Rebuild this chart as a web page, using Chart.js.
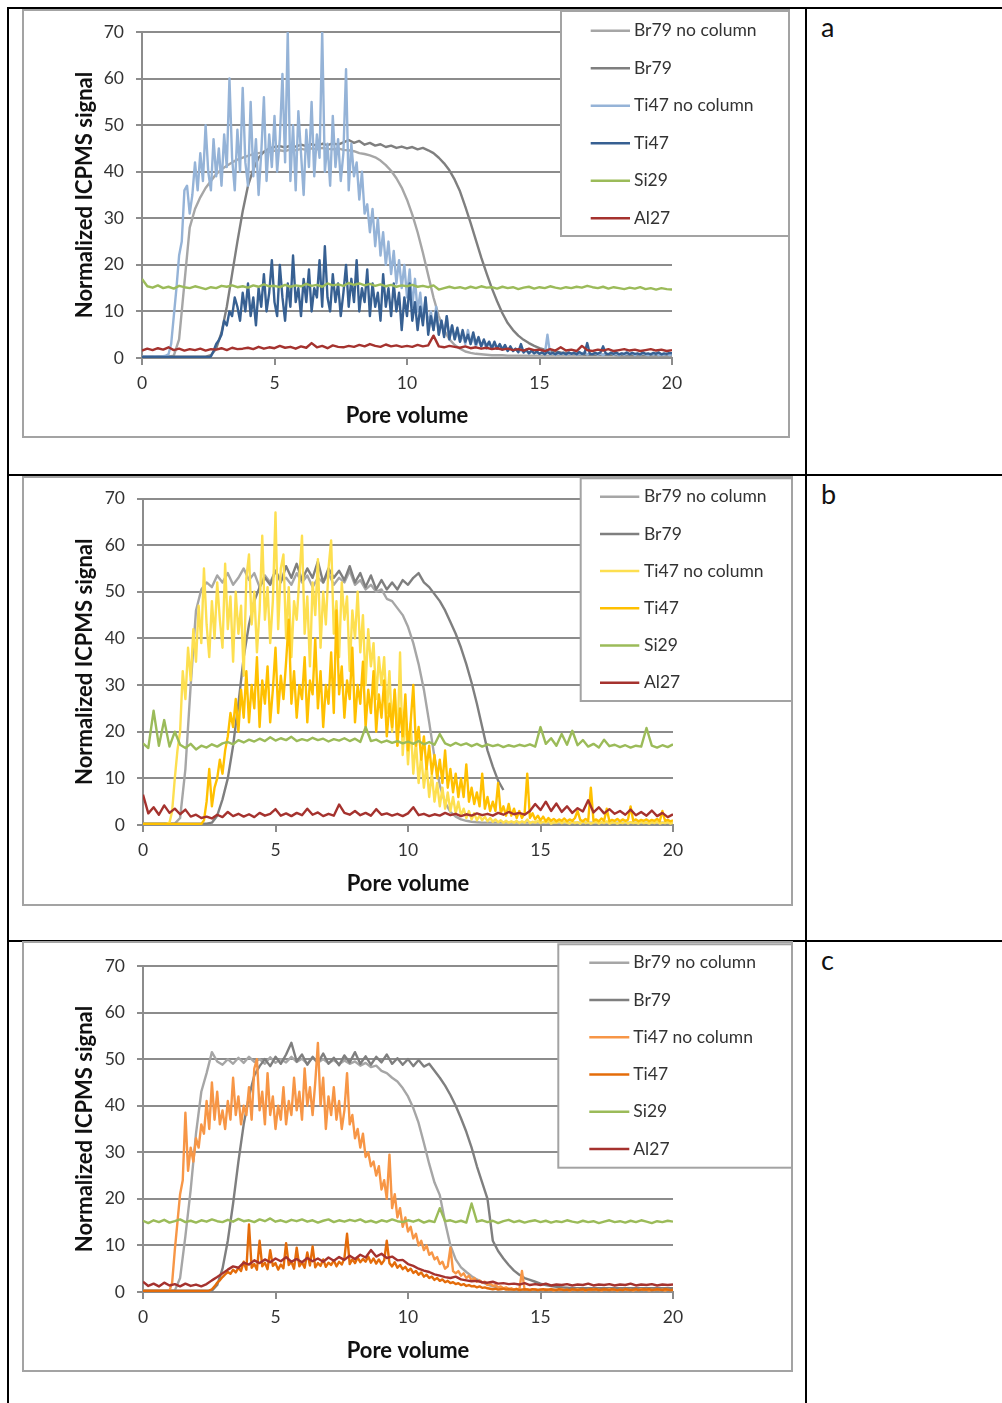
<!DOCTYPE html>
<html>
<head>
<meta charset="utf-8">
<script src="https://cdn.jsdelivr.net/npm/chart.js@4.4.1/dist/chart.umd.min.js"></script>
<style>
  html, body { margin: 0; padding: 0; background: #fff; }
  body { width: 1002px; height: 1403px; position: relative; overflow: hidden; }
  .rule { position: absolute; background: #000; }
  canvas { position: absolute; }
  .tag { position: absolute; font: 27px Lato, sans-serif; line-height: 27px; color: #111; }
</style>
</head>
<body>
<div class="rule" style="left:7px;top:7px;width:995px;height:2px"></div>
<div class="rule" style="left:7px;top:474px;width:995px;height:2px"></div>
<div class="rule" style="left:7px;top:940px;width:995px;height:2px"></div>
<div class="rule" style="left:7px;top:7px;width:2px;height:1396px"></div>
<div class="rule" style="left:805px;top:7px;width:2px;height:1396px"></div>

<canvas id="chartA" width="768" height="429" style="left:22px;top:9px"></canvas>
<canvas id="chartB" width="771" height="430" style="left:22px;top:476px"></canvas>
<canvas id="chartC" width="771" height="431" style="left:22px;top:941px"></canvas>

<div class="tag" style="left:821px;top:13px">a</div>
<div class="tag" style="left:821px;top:480px">b</div>
<div class="tag" style="left:821px;top:946px">c</div>

<script>
/* sampling of the traces along the x axis (pore volume) */
var stepCoarse = 0.2;   // Br79, Si29, Al27
var stepFine = 0.1;     // noisy Ti47 traces

var seriesNames = ['Br79 no column', 'Br79', 'Ti47 no column', 'Ti47', 'Si29', 'Al27'];

/* ---------- panel a ---------- */
var aBr79NoCol = [
  0.3,0.3,0.3,0.3,0.3,0.3,0.5,4,16,28,
  32,34.5,36.5,38,39.5,40.5,41.3,42,42.6,43,
  43.4,43.8,44,44.2,44.3,44.5,44.6,44.4,44.8,44.6,
  44.9,44.7,45,44.8,45.1,44.9,44.8,45,44.7,44.6,
  44.4,44,43.8,43.5,43.1,42.4,41.4,40.2,38.6,36.6,
  34,30.8,27,22.6,17.8,13,9,6,4,2.8,
  2,1.4,1.1,0.9,0.8,0.7,0.6,0.6,0.6,0.5,
  0.5,0.5,0.5,0.5,0.5,0.5,0.5,0.5,0.5,0.5,
  0.5,0.5,0.5,0.5,0.5,0.5,0.5,0.5,0.5,0.5,
  0.5,0.5,0.5,0.5,0.5,0.5,0.5,0.5,0.5,0.5,
  0.5
];
var aBr79 = [
  0.3,0.3,0.3,0.3,0.3,0.3,0.3,0.3,0.3,0.3,
  0.3,0.3,0.3,0.6,2,5.5,11,18,25,31.5,
  37,40.5,43,44.3,45,45.3,45.5,45.2,45.6,45.4,
  45.8,45.5,45.9,45.6,46,45.7,46.1,45.8,46.3,46.8,
  46.2,46.6,45.8,46.2,45.6,45.9,45.3,45.6,45.1,45.4,
  45,45.3,44.8,45.1,44.6,44,43,41.8,40.3,38.3,
  35.8,32.5,29,25.3,21.6,18.2,15,12.2,9.6,7.5,
  6,4.8,3.9,3.2,2.6,2.1,1.8,1.6,1.4,1.2,
  1.1,1,0.9,0.8,0.7,0.7,0.7,0.7,0.7,0.7,
  0.6,0.6,0.6,0.6,0.6,0.6,0.6,0.6,0.6,0.6,
  0.6
];
var aTi47NoCol = [
  0.3,0.3,0.4,0.3,0.3,0.4,0.3,0.3,0.4,0.5,
  0.8,3,9,15,22,25,36,37,31,35,
  42,36,44,38,50,40,36,47,39,45,
  37,48,41,60,43,36,49,40,58,42,
  37,55,39,47,35,44,56,38,48,41,
  52,40,47,61,42,70,38,50,36,53,
  44,35,49,41,55,39,48,43,70,40,
  46,37,52,41,47,38,44,62,36,46,
  39,42,34,40,31,33,27,32,24,30,
  22,27,20,25,18,23,16,21,15,20,
  13,19,11,17,10,14,8,13,7,10,
  6,11,5,8,5,9,4,7,4,6,
  3.5,5,3,6,3,4.5,2.5,4,2.5,3.5,
  2,3.5,2,3,2,2.8,1.8,2.5,1.5,2.3,
  1.5,2,1.2,1.8,1.2,1.6,1,1.4,1,1.3,
  0.9,1.2,0.8,5,0.8,1.1,0.7,1,0.8,1.1,
  0.7,1,0.8,1.2,0.7,0.9,0.8,1.3,0.7,1,
  0.8,1.1,0.7,0.9,0.6,1,0.8,1.2,0.7,0.9,
  0.6,1,0.7,0.9,0.8,1.1,0.6,0.9,0.7,1,
  0.8,0.6,0.9,0.7,1,0.6,0.8,0.7,0.9,0.6,
  0.8
];
var aTi47 = [
  0.2,0.2,0.2,0.2,0.2,0.2,0.2,0.2,0.2,0.2,
  0.2,0.2,0.2,0.2,0.2,0.2,0.2,0.2,0.2,0.2,
  0.2,0.2,0.2,0.2,0.2,0.2,0.3,1.5,3,3.8,
  5,8,7,10,9,13,11,8,14,10,
  16,9,13,7,15,11,18,10,14,21,
  12,9,20,13,8,16,11,22,12,15,
  9,17,12,19,10,15,13,21,11,24,
  13,10,18,12,16,9,14,20,11,17,
  12,21,10,15,12,19,9,16,11,14,
  8,18,11,15,9,16,10,14,6,13,
  9,16,8,12,6,11,7,13,5,9,
  6,10,5,8,4.5,9,4,7,4,6.5,
  3.5,6,3.5,5,3,5.5,3,4.5,2.5,4,
  2.5,3.5,2,3.5,2,3,1.8,2.8,1.5,2.5,
  1.5,2,1.3,3,1.2,1.8,1,1.6,1,1.4,
  0.9,1.2,0.8,1.3,0.9,1.1,0.8,1.2,0.9,1.1,
  0.8,1.2,0.9,1.1,0.8,1.3,0.9,1,3.2,0.9,
  0.8,1.1,0.9,1.2,2.5,1,0.8,1.1,0.9,1.2,
  0.8,1,0.9,1.2,0.8,1.1,0.9,1,0.8,1.2,
  0.9,1,0.8,1.1,0.9,1.2,0.8,1,0.9,1.1,
  1
];
var aSi29 = [
  17,15.4,15.1,15.6,15,15.3,14.9,15.5,15.2,15,
  15.4,15.1,14.8,15.2,15,15.5,15.3,15.6,15.2,15.4,
  15.1,15.6,15.3,15.8,15.4,15.5,15.2,15.7,15.3,15.6,
  15.4,15.9,15.5,15.7,15.3,16,15.6,15.8,15.5,16.1,
  15.7,16,15.6,15.9,15.5,15.8,15.4,15.7,15.3,15.6,
  15.4,15.7,15.3,15.5,15.2,15.6,14.7,15,15.3,15,
  15.2,14.9,15.3,15,15.4,15.1,15.2,14.9,15.3,15,
  15.2,14.8,15.1,15.3,14.9,15.2,15,15.4,15.1,14.9,
  15.2,15,15.3,15.1,15.5,15.2,15,15.3,14.9,15.2,
  15,14.8,15.1,14.9,15.2,14.8,15,14.7,15,14.8,
  14.7
];
var aAl27 = [
  1.6,2,1.7,2.1,1.8,2.3,1.7,2,1.6,1.9,
  1.7,2,1.6,1.9,1.8,2.1,1.7,2.2,1.9,2,
  2.2,1.9,2.4,2,2.3,2.1,2.6,2.2,2.4,2,
  2.5,2.2,3.2,2.3,2.6,2.1,2.7,2.4,2.3,2.6,
  2.4,2.8,2.5,3,2.6,2.4,2.9,2.5,2.7,2.4,
  2.6,2.4,2.8,2.5,2.7,4.8,2.5,2.3,2.6,2.4,
  2.2,2.5,2.1,2.3,2,2.2,1.9,2.1,1.8,2,
  1.7,1.9,1.6,2,1.7,1.8,1.5,1.9,1.6,2.3,
  1.6,1.8,1.5,2.6,1.7,1.5,1.8,1.6,1.9,1.5,
  1.7,1.9,1.6,1.8,1.5,1.7,1.9,1.6,1.8,1.5,
  1.7
];

/* ---------- panel b ---------- */
var bBr79NoCol = [
  0.3,0.3,0.3,0.3,0.3,0.3,0.3,1.5,12,30,
  46,50.5,52,51,53.5,52,54,51.5,53,55,
  52.5,54,51,53.5,52,54.5,52.5,53,51.5,54,
  52,53.5,51,53,52,54,51.5,53,52,54.5,
  51.5,52.5,50.5,51.5,50,50.5,48.5,48,46.5,45,
  42.5,39,34.5,29,22,14.5,8.5,4.8,2.8,1.8,
  1.2,0.9,0.7,0.6,0.5,0.5,0.5,0.5,0.5,0.5,
  0.5,0.5,0.5,0.5,0.5,0.5,0.5,0.5,0.5,0.5,
  0.5,0.5,0.5,0.5,0.5,0.5,0.5,0.5,0.5,0.5,
  0.5,0.5,0.5,0.5,0.5,0.5,0.5,0.5,0.5,0.5,
  0.5
];
// Br79 trace stops at 13.6 pore volumes in this run
var bBr79 = [
  0.3,0.3,0.3,0.3,0.3,0.3,0.3,0.3,0.3,0.3,
  0.3,0.3,0.3,0.5,2,5.5,10,17,26,36,
  43,48,51,53,51.5,54.5,52,55.5,53,56,
  52.5,55,53,56.5,52,55,53,54.5,52.5,55.5,
  52,54,51,53.5,50.5,52.5,50.5,52,50.5,52.5,
  51.5,53,54,52,51,49.5,48,46,43.5,41,
  38,34.5,30.5,26,21,16,12.5,9.5,7.5
];
var bTi47NoCol = [
  0.2,0.2,0.2,0.2,0.2,0.2,0.2,0.2,0.2,0.3,
  0.5,3,10,16,20,33,27,38,31,42,
  35,47,39,55,43,36,48,40,52,44,
  38,56,42,49,35,50,41,47,32,53,
  58,43,50,37,46,62,44,51,39,48,
  67,42,55,58,40,51,36,48,44,53,
  62,41,49,34,52,45,57,38,50,43,
  55,61,41,48,36,52,44,49,33,46,
  40,50,37,45,30,42,34,39,27,36,
  30,36,24,33,20,29,17,37,15,24,
  13,22,11,18,9,15,8,13,6,11,
  5,9,4,8,3.5,7,3,6,2.5,5,
  2,3.5,1.5,3,1.2,2.5,1,2,1,1.8,
  0.8,1.5,0.7,1.2,0.6,1,0.5,0.9,0.5,0.8,
  0.5,0.9,0.4,0.8,0.5,1.2,0.4,0.7,0.5,0.9,
  0.4,0.7,0.5,0.9,0.3,0.6,0.5,0.8,0.4,0.7,
  0.5,0.3,0.7,0.4,0.6,0.3,0.8,0.4,0.6,0.3,
  0.5,0.7,0.3,0.6,0.4,0.8,0.3,0.5,0.6,0.3,
  0.5,0.4,0.7,0.3,0.6,0.4,0.5,0.3,0.7,0.4,
  0.5,0.3,0.6,0.4,0.7,0.3,0.5,0.4,0.6,0.3,
  0.5
];
var bTi47 = [
  0.2,0.2,0.2,0.2,0.2,0.2,0.2,0.2,0.2,0.2,
  0.2,0.2,0.2,0.2,0.2,0.2,0.2,0.2,0.2,0.2,
  0.2,0.2,0.2,1,5,12,4,8,10,14,
  11,16,19,24,21,27,20,29,23,33,
  22,30,25,36,21,31,26,34,22,29,
  38,24,32,27,35,44,26,33,23,30,
  27,36,22,31,28,40,25,33,21,30,
  26,37,24,46,28,34,23,31,27,38,
  22,30,26,35,21,29,24,33,20,28,
  23,31,19,26,21,29,17,25,19,28,
  16,22,30,17,21,14,19,12,17,11,
  15,10,14,9,16,8,12,7,11,6,
  10,6,13,5,8,4.5,7,4,11,3.5,
  6,3,5,3,9,2.5,4,2,4.5,2,
  3.5,1.5,3,1.5,2.5,11,1.5,2.5,1.2,2,
  1,1.8,0.8,1.5,0.9,1.3,0.8,1.2,0.9,1.4,
  0.8,1.2,0.9,1.5,3,1.1,0.8,1.3,0.9,8,
  0.9,1.2,0.8,1.4,0.9,3.5,0.8,1.1,0.9,1.3,
  0.8,1.2,0.9,1.1,4,0.9,1.2,0.8,1.1,0.9,
  1.2,0.8,1.1,0.9,1.3,0.8,3,0.9,1.1,0.8,
  1
];
var bSi29 = [
  17.5,16.5,24.5,17,22.5,16.8,20,17.2,16.5,17.4,
  16.2,17,16.6,17.3,16.8,17.5,17.8,17.3,18.2,17.7,
  18.3,17.9,18.5,18,18.8,18.1,18.6,18.2,18.9,18,
  18.4,18.1,18.7,18.2,18.5,17.9,18.4,18.1,18.6,18,
  18.5,17.8,21,18,18.3,17.7,18.1,17.6,18,17.5,
  17.9,17.4,18,17.3,17.8,17.2,19.5,17.5,17,17.6,
  17.1,17.5,16.9,17.4,16.8,17.3,16.9,17.2,16.7,17.1,
  16.8,17.2,16.9,17.3,16.8,21,17.4,18.6,17,19.5,
  17.2,20.2,17.1,18.2,16.8,17.4,16.6,18.3,16.9,17.2,
  16.7,17.1,16.6,17,16.8,20.8,17,16.6,17.1,16.7,
  17.3
];
var bAl27 = [
  6.5,2.5,3.8,2.2,4.2,2.6,3.5,2.3,3.3,1.8,
  2.2,1.5,1.8,1.4,2.2,1.7,2.8,1.9,2.4,1.8,
  2.3,1.7,2.6,2,2.4,3.4,2,2.5,1.9,2.6,
  2.1,3.5,2.2,2.7,1.9,2.4,2,4.4,2.6,2.2,
  3,2.1,2.6,2,3.4,2.2,2.5,2,2.4,1.9,
  2.5,3.8,2.1,2.4,1.9,2.3,2,2.6,2.1,2.4,
  1.9,2.3,2,2.5,2.1,2.4,2,2.6,2.2,2.8,
  2.3,2.6,2.2,3,4.5,3.2,5,3,4.6,2.8,
  4,2.6,3.6,2.9,5.3,2.7,3.8,2.5,3.4,2.4,
  3,2.2,3.3,2.1,2.8,2,3.1,1.9,2.6,1.7,
  2.3
];

/* ---------- panel c ---------- */
var cBr79NoCol = [
  0.3,0.3,0.3,0.3,0.3,0.3,0.3,3,12,22,
  34,43,47,51.5,49.5,48.8,50,49,50.3,49.2,
  50.5,49.4,50,49,50.4,49.2,50,49.3,50.5,49.4,
  50.1,49,50.3,49.2,50,49.1,49.8,48.9,49.7,49,
  49.5,48.6,49.2,48.3,48.6,47.5,47,46,45.2,43.8,
  42,39.5,36.3,32,27.5,23.5,20.8,15,10,7,
  5.3,4.3,3.4,2.7,2.1,1.6,1.2,1,0.8,0.7,
  0.5,0.5,0.5,0.5,0.5,0.5,0.5,0.5,0.5,0.5,
  0.5,0.5,0.5,0.5,0.5,0.5,0.5,0.5,0.5,0.5,
  0.5,0.5,0.5,0.5,0.5,0.5,0.5,0.5,0.5,0.5,
  0.5
];
var cBr79 = [
  0.3,0.3,0.3,0.3,0.3,0.3,0.3,0.3,0.3,0.3,
  0.3,0.3,0.3,0.3,1.5,5,11,19,28,36,
  42,46.5,48.5,50,48.5,50.5,49,51,53.5,49.5,
  51,48.8,50.5,49.2,51.2,49,50.3,48.7,50.8,49.3,
  51.5,49,50.6,48.8,50.5,49.3,51,49,50.2,48.8,
  50,48.5,49.8,48.4,49,47.5,46,44.3,42.3,40,
  37.3,34.4,31,27,23.5,20,11,8.8,7.2,5.8,
  4.6,3.7,3,2.6,2.2,1.8,1.5,1.3,1.1,1,
  0.9,0.8,0.8,0.8,0.8,0.8,0.8,0.8,0.8,0.8,
  0.8,0.8,0.8,0.8,0.8,0.8,0.8,0.8,0.8,0.8,
  0.8
];
var cTi47NoCol = [
  0.2,0.2,0.2,0.2,0.2,0.2,0.2,0.2,0.2,0.2,
  0.3,2,9,15,21,24,38.5,26,31,28,
  33,31,36,34,41,35,45,37,43,36,
  39,35,41,37,46,38,42,36,40,38,
  44,37,48,50,39,43,36,47,38,42,
  35,40,37,44,36,41,38,46,39,43,
  37,48,40,44,38,45,53.5,40,46,35,
  42,38,44,37,41,35,39,47,36,38,
  33,35,31,34,29,30,27,28,25,27,
  22,24,20,29.5,18,21,16,18,14,16,
  13,14,11.5,12.5,10,11,9,10,8,8.5,
  7,7.5,6,6.5,5,5.5,9.5,4.5,4,4.5,
  3.5,4,3,3.5,2.5,3,2.2,2.5,2,2.2,
  1.5,1.8,1.3,1.5,1,1.2,0.8,1,0.6,0.8,
  0.5,0.7,0.4,4.5,0.5,0.6,0.4,0.5,0.6,0.4,
  0.5,0.4,0.6,0.4,0.5,0.3,0.5,0.4,0.6,0.4,
  0.5,0.3,0.5,0.4,0.6,0.4,0.5,0.3,0.5,0.4,
  0.6,0.4,0.5,0.3,0.5,0.4,0.6,0.4,0.5,0.3,
  0.5,0.4,0.6,0.4,0.5,0.3,0.5,0.4,0.6,0.4,
  0.5,0.3,0.5,0.4,0.6,0.4,0.5,0.3,0.5,0.4,
  0.4
];
var cTi47 = [
  0.2,0.2,0.2,0.2,0.2,0.2,0.2,0.2,0.2,0.2,
  0.2,0.2,0.2,0.2,0.2,0.2,0.2,0.2,0.2,0.2,
  0.2,0.2,0.2,0.2,0.2,0.3,0.6,1.2,2,2.5,
  3.2,3.8,4.3,3.9,4.8,4.2,5.2,4.5,6.5,4.8,
  14.5,5.2,6,4.8,11,5.5,6.3,4.9,9,5.6,
  6.2,4.8,5.9,5.1,10.5,5.8,6.5,5,9.5,5.5,
  6.4,5.2,8.5,5.7,9.8,5.3,6.2,5.6,7,5.4,
  6.3,5.8,6.8,5.5,6.5,5.9,7.2,12.5,6,7,
  6.2,7.4,6.4,7.1,6.5,7.6,6.3,7.2,6.1,7,
  6,6.8,11,6.2,5.5,6.4,5.2,5.8,4.9,5.4,
  4.5,5,4.1,4.5,3.7,4.2,3.3,3.7,3,3.3,
  2.6,3,2.4,2.7,2.1,2.4,1.9,2.1,1.7,1.9,
  1.5,1.7,1.3,1.5,1.2,1.3,1,1.2,0.9,1,
  0.8,0.7,0.6,0.7,0.5,0.6,0.7,0.5,0.6,0.5,
  0.5,0.6,0.4,0.5,0.6,0.5,0.4,0.6,0.5,0.4,
  0.5,0.6,0.4,0.5,0.6,0.5,0.4,0.6,0.5,0.4,
  0.5,0.4,0.6,0.5,0.4,0.5,0.6,0.4,0.5,0.6,
  0.5,0.6,0.4,0.5,0.6,0.5,0.4,0.6,0.5,0.4,
  0.5,0.4,0.6,0.5,0.4,0.5,0.6,0.4,0.5,0.6,
  0.5,0.6,0.4,0.5,0.6,0.5,0.4,0.6,0.5,0.4,
  0.5
];
var cSi29 = [
  15.3,14.8,15.4,15,15.5,14.9,15.2,15.6,15,15.3,
  14.9,15.4,15.1,15.6,15.2,15,15.5,15.1,15.7,15.2,
  15.4,15,15.6,15.2,15.8,15.1,15.4,15,15.5,15.2,
  15.6,15.1,15.4,14.9,15.3,15.6,15,15.4,15.1,15.5,
  15.2,15.6,15,15.3,14.9,15.4,15.1,15.6,15.2,15,
  15.4,15.1,15.5,14.9,15.3,15,18,15.2,15.4,15,
  15.3,14.9,19,15.1,15.4,15,15.3,14.8,15.2,15.5,
  15,15.3,14.9,15.2,15.4,15,15.3,14.9,15.2,15,
  15.4,15.1,14.9,15.3,15,15.2,14.8,15.1,15.4,15,
  15.2,14.9,15.3,15,15.4,15.1,14.8,15.2,15,15.3,
  15.1
];
var cAl27 = [
  2.2,1.3,1.8,1.2,2,1.4,1.7,1.2,1.8,1.3,
  1.6,1.2,1.7,2.5,3.2,4,4.8,5.5,5.2,6.3,
  5.9,6.8,6.2,7,6.4,7.2,6.6,7.5,6.5,7.1,
  6.4,7.3,6.6,7.2,6.5,7.4,6.7,7.5,6.9,7.8,
  7.1,8,7.4,9,7.6,8.2,7.3,7.6,6.8,6.9,
  6,5.6,5,4.6,4.3,3.8,3.5,3.2,3,3.3,
  2.7,2.5,2.3,2.4,2.1,2,2.2,1.8,1.9,1.7,
  1.8,1.6,1.9,1.5,1.7,1.5,1.8,1.4,1.6,1.5,
  1.7,1.4,1.6,1.5,1.8,1.4,1.6,1.5,1.7,1.4,
  1.6,1.5,1.8,1.4,1.6,1.5,1.7,1.4,1.6,1.5,
  1.6
];

/* colours, same order as seriesNames */
var colorsA = ['#a6a6a6', '#7f7f7f', '#95b3d7', '#376092', '#9bbb59', '#a5322e'];
var colorsB = ['#a6a6a6', '#7f7f7f', '#fddf50', '#ffc000', '#9bbb59', '#a5322e'];
var colorsC = ['#a6a6a6', '#7f7f7f', '#f79646', '#e46c0a', '#9bbb59', '#a5322e'];

var gridColor = '#8c8c8c';
var tickFont = { family: 'Lato', size: 17.5 };
var titleFont = { family: 'Lato', size: 22, weight: 'bold' };

function toPoints(values, step) {
  return values.map(function (v, i) {
    return { x: Math.round(i * step * 10) / 10, y: v };
  });
}

/* gray outline round the whole chart */
var panelFrame = {
  id: 'panelFrame',
  beforeDraw: function (chart) {
    var ctx = chart.ctx;
    ctx.save();
    ctx.strokeStyle = '#a3a3a3';
    ctx.lineWidth = 2;
    ctx.strokeRect(1, 1, chart.width - 2, chart.height - 2);
    ctx.restore();
  }
};

/* legend in a boxed panel at the top right, drawn over the grid */
var boxLegend = {
  id: 'boxLegend',
  afterDraw: function (chart, args, o) {
    var ctx = chart.ctx;
    var right = chart.width - 1;
    ctx.save();
    ctx.fillStyle = '#fff';
    ctx.fillRect(o.left, o.top, right - o.left, o.bottom - o.top);
    ctx.strokeStyle = '#a3a3a3';
    ctx.lineWidth = 2;
    ctx.strokeRect(o.left, o.top, right - o.left, o.bottom - o.top);
    ctx.font = '17.5px Lato';
    ctx.textBaseline = 'middle';
    chart.data.datasets.forEach(function (ds, i) {
      var y = o.firstRow + i * o.rowGap;
      ctx.strokeStyle = ds.borderColor;
      ctx.lineWidth = 2.5;
      ctx.beginPath();
      ctx.moveTo(o.lineFrom, y);
      ctx.lineTo(o.lineTo, y);
      ctx.stroke();
      ctx.fillStyle = '#333';
      ctx.fillText(ds.label, o.textX, y);
    });
    ctx.restore();
  }
};

function buildPanel(canvasId, series, colors, geo) {
  var datasets = series.map(function (s, i) {
    return {
      label: seriesNames[i],
      data: toPoints(s[0], s[1]),
      borderColor: colors[i],
      backgroundColor: colors[i],
      borderWidth: 2.4,
      pointRadius: 0,
      tension: 0,
      borderJoinStyle: 'round',
      order: series.length - i   // later series lie on top
    };
  });

  return new Chart(document.getElementById(canvasId), {
    type: 'line',
    data: { datasets: datasets },
    plugins: [panelFrame, boxLegend],
    options: {
      responsive: false,
      animation: false,
      devicePixelRatio: 1,
      layout: { padding: { left: 0, top: geo.top, right: geo.padRight, bottom: 0 } },
      plugins: {
        legend: { display: false },
        tooltip: { enabled: false },
        boxLegend: geo.legend
      },
      scales: {
        x: {
          type: 'linear',
          min: 0,
          max: 20,
          afterFit: function (s) { s.height = geo.xAxisHeight; },
          ticks: { stepSize: 5, padding: 8, color: '#333', font: tickFont },
          grid: { drawOnChartArea: false, color: gridColor, lineWidth: 2, tickLength: 7 },
          border: { color: gridColor, width: 2 },
          title: {
            display: true, text: 'Pore volume', color: '#111', font: titleFont,
            padding: { top: 0, bottom: geo.xTitlePad }
          }
        },
        y: {
          type: 'linear',
          min: 0,
          max: 70,
          afterFit: function (s) { s.width = geo.left; },
          ticks: { stepSize: 10, padding: 12, color: '#333', font: tickFont },
          grid: { color: gridColor, lineWidth: 2, tickLength: 6 },
          border: { color: gridColor, width: 2 },
          title: {
            display: true, text: 'Normalized ICPMS signal', color: '#111', font: titleFont,
            padding: { top: 49.3, bottom: 0 }
          }
        }
      }
    }
  });
}

buildPanel('chartA',
  [[aBr79NoCol, stepCoarse], [aBr79, stepCoarse], [aTi47NoCol, stepFine],
   [aTi47, stepFine], [aSi29, stepCoarse], [aAl27, stepCoarse]],
  colorsA,
  { left: 120, top: 23, padRight: 118, xAxisHeight: 80, xTitlePad: 8.8,
    legend: { left: 539, top: 2, bottom: 227, firstRow: 21.7, rowGap: 37.5,
              lineFrom: 568.7, lineTo: 608, textX: 612 } });

buildPanel('chartB',
  [[bBr79NoCol, stepCoarse], [bBr79, stepCoarse], [bTi47NoCol, stepFine],
   [bTi47, stepFine], [bSi29, stepCoarse], [bAl27, stepCoarse]],
  colorsB,
  { left: 121, top: 22, padRight: 120, xAxisHeight: 81, xTitlePad: 9.3,
    legend: { left: 558.7, top: 2.3, bottom: 225, firstRow: 20.7, rowGap: 37.2,
              lineFrom: 578, lineTo: 617.3, textX: 622 } });

buildPanel('chartC',
  [[cBr79NoCol, stepCoarse], [cBr79, stepCoarse], [cTi47NoCol, stepFine],
   [cTi47, stepFine], [cSi29, stepCoarse], [cAl27, stepCoarse]],
  colorsC,
  { left: 121, top: 25, padRight: 120, xAxisHeight: 80, xTitlePad: 8.3,
    legend: { left: 536.3, top: 3.3, bottom: 226.7, firstRow: 21.7, rowGap: 37.25,
              lineFrom: 567.3, lineTo: 607.3, textX: 611.3 } });
</script>
</body>
</html>
